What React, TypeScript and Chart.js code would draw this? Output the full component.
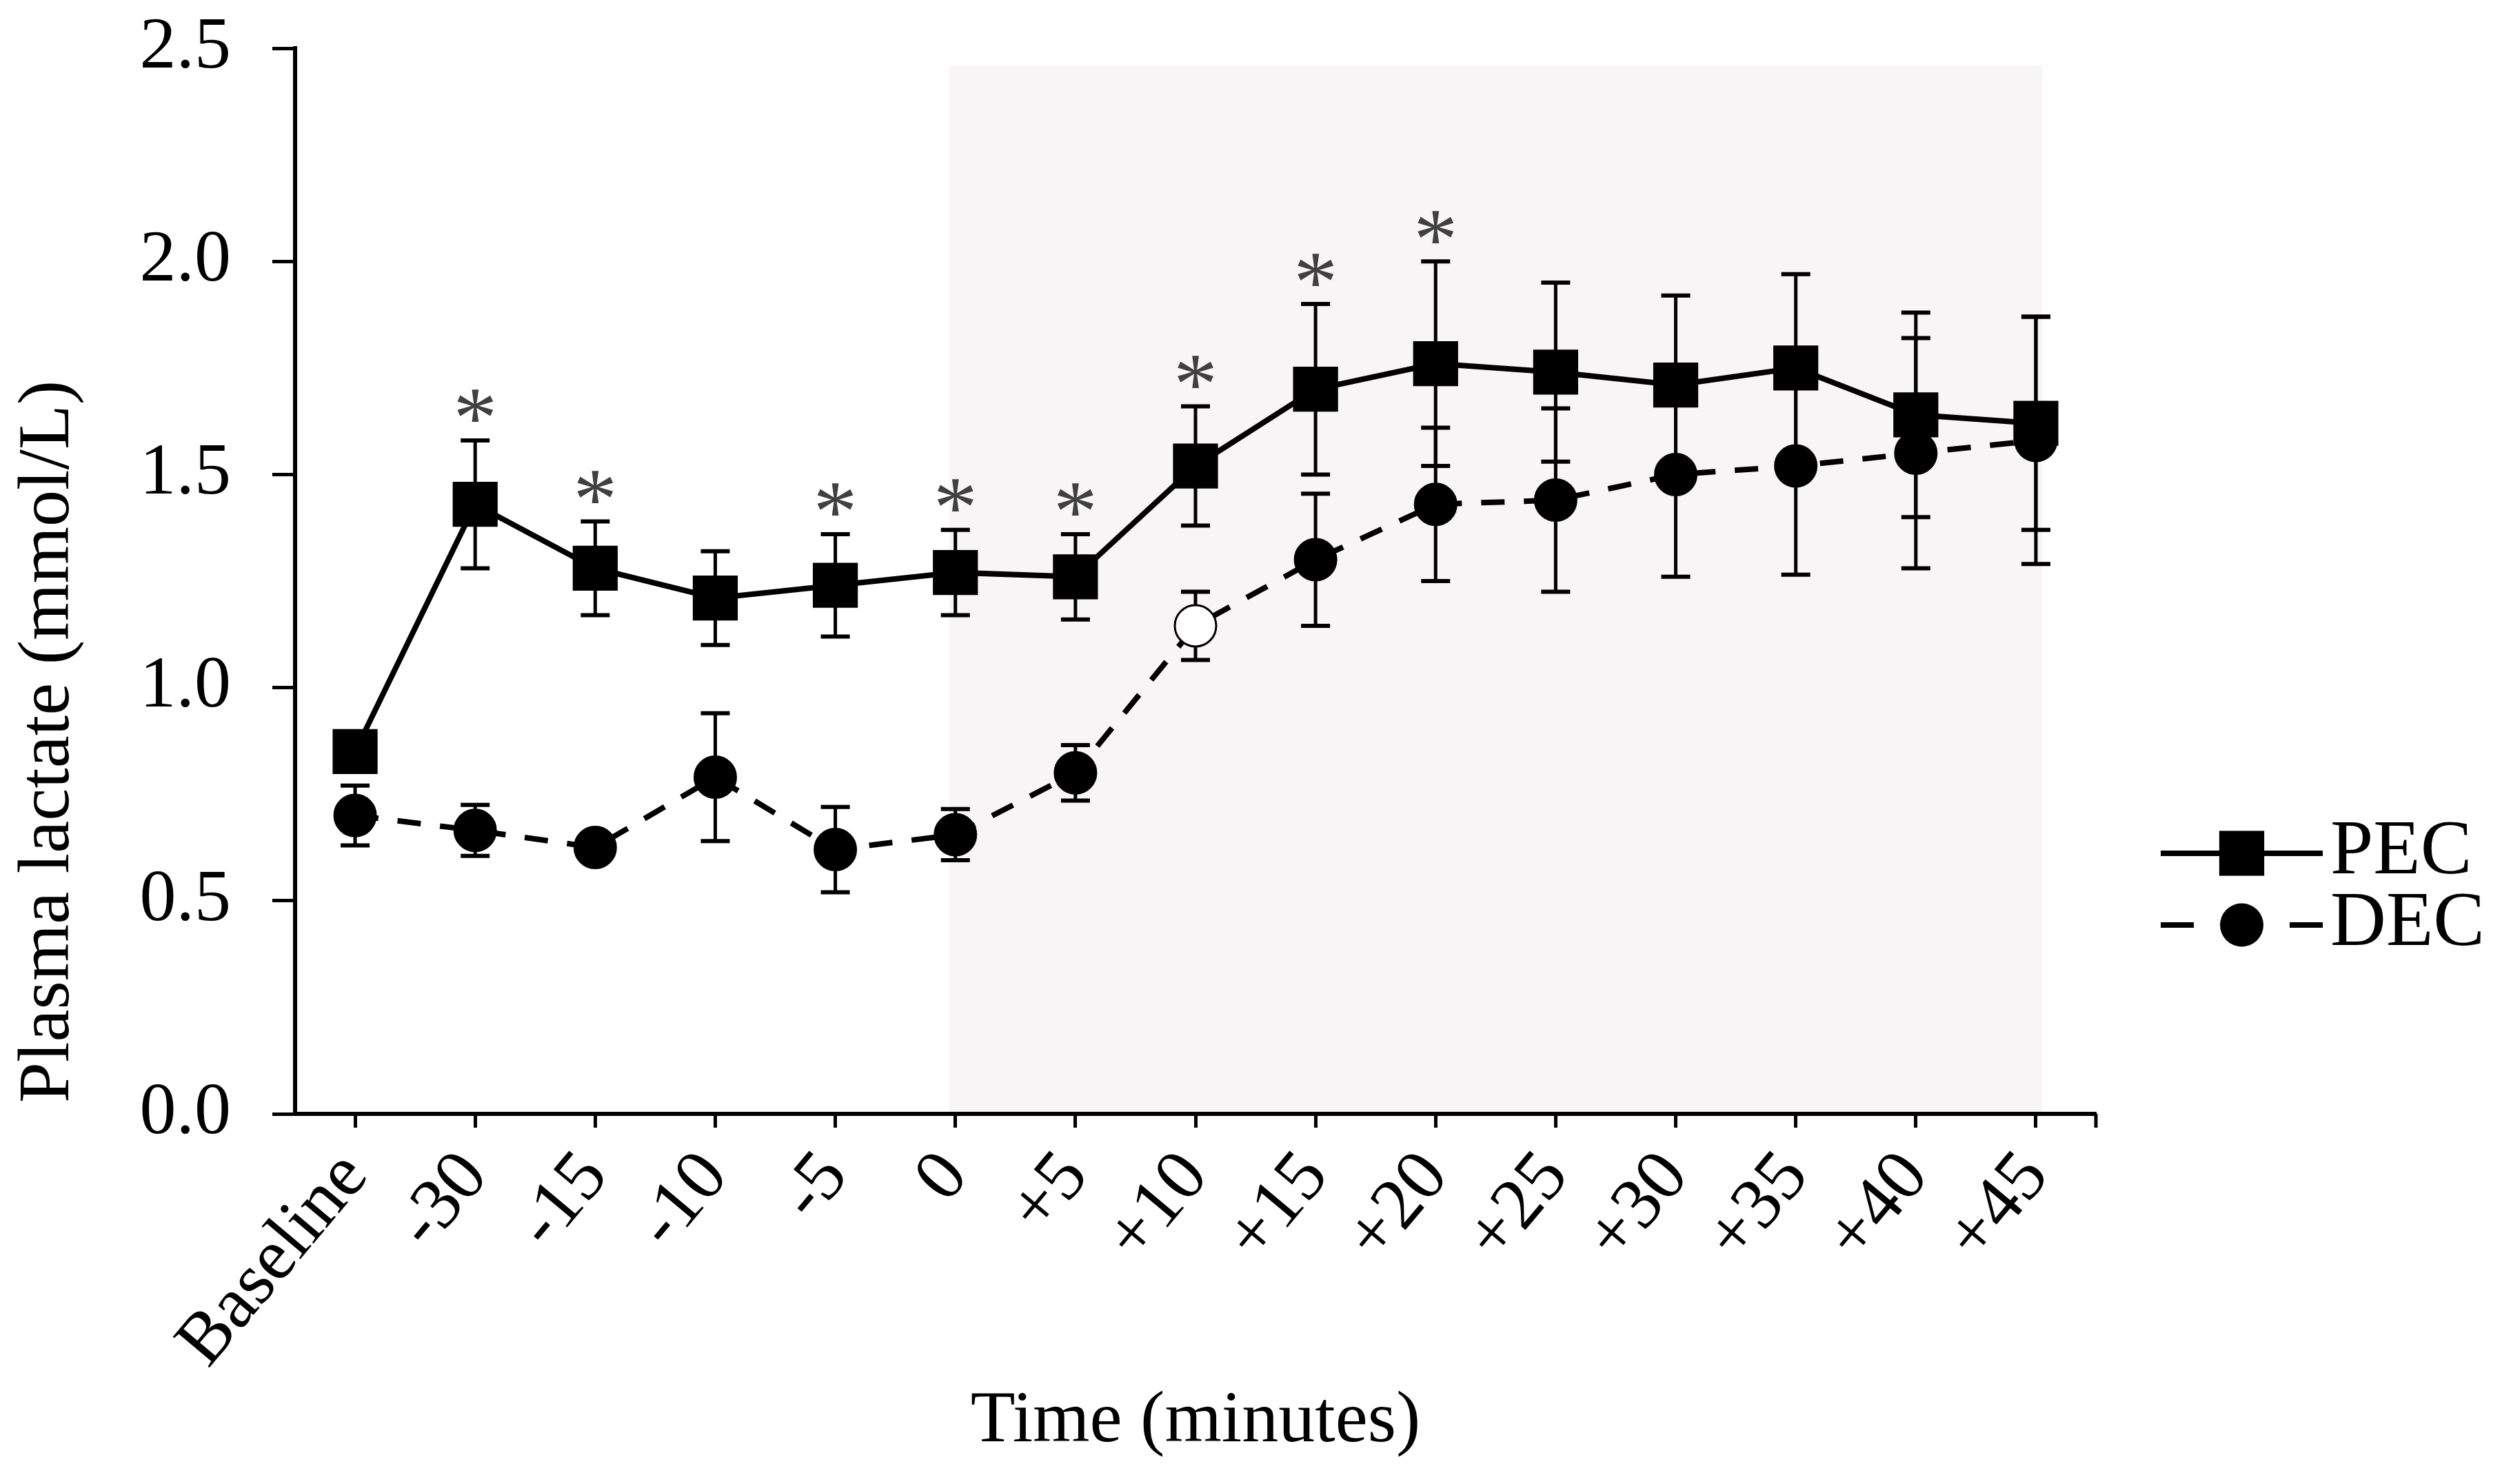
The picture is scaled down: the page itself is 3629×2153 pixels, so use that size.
import React, { useEffect, useRef } from 'react';
import { Chart, registerables } from 'chart.js';

Chart.register(...registerables);

// ---------- data ----------
const categories = ['Baseline', '-30', '-15', '-10', '-5', '0', '+5', '+10', '+15', '+20', '+25', '+30', '+35', '+40', '+45'];
const seriesNames = ['PEC', 'DEC'];
const pecMean = [0.85, 1.43, 1.28, 1.21, 1.24, 1.27, 1.26, 1.52, 1.70, 1.76, 1.74, 1.71, 1.75, 1.64, 1.62];
const pecErr = [0.04, 0.15, 0.11, 0.11, 0.12, 0.10, 0.10, 0.14, 0.20, 0.24, 0.21, 0.21, 0.22, 0.24, 0.25];
const decMean = [0.70, 0.665, 0.625, 0.79, 0.62, 0.655, 0.80, 1.145, 1.30, 1.43, 1.44, 1.50, 1.52, 1.55, 1.58];
const decErr = [0.07, 0.06, 0.03, 0.15, 0.10, 0.06, 0.065, 0.08, 0.155, 0.18, 0.215, 0.24, 0.255, 0.27, 0.29];
const pecSignificant = [false, true, true, false, true, true, true, true, true, true, false, false, false, false, false];
const decHollow = [false, false, false, false, false, false, false, true, false, false, false, false, false, false, false];
const yTickValues = [0, 0.5, 1.0, 1.5, 2.0, 2.5];
const shadedFrom = '0';
const shadedTo = '+45';
const shadedTop = 2.46;
const yTitle = 'Plasma lactate (mmol/L)';
const xTitle = 'Time (minutes)';

// ---------- styles ----------
const FONT = '"Liberation Serif", "Times New Roman", Times, serif';
const BLACK = '#000000';
const SHADE = '#f7f5f6';
const STAR = '#404040';
const SQUARE_RADIUS = 44;
const CIRCLE_RADIUS = 30;
const LINE_W = 8;
const DASH = [34, 28];

const overlayPlugin = {
  id: 'overlayPlugin',
  beforeDraw(chart: any) {
    const { ctx, scales } = chart;
    const x = scales.x, y = scales.y;
    const i0 = categories.indexOf(shadedFrom);
    const i1 = categories.indexOf(shadedTo);
    const left = x.getPixelForValue(i0) - 9;
    const right = x.getPixelForValue(i1) + 9;
    const top = y.getPixelForValue(shadedTop);
    const bottom = y.getPixelForValue(0);
    ctx.save();
    ctx.fillStyle = SHADE;
    ctx.fillRect(left, top, right - left, bottom - top);
    ctx.restore();
  },
  beforeDatasetsDraw(chart: any) {
    const { ctx, scales } = chart;
    const x = scales.x, y = scales.y;
    const drawBars = (means: number[], errs: number[]) => {
      means.forEach((m, i) => {
        const px = x.getPixelForValue(i);
        const yt = y.getPixelForValue(m + errs[i]);
        const yb = y.getPixelForValue(m - errs[i]);
        ctx.save();
        ctx.strokeStyle = BLACK;
        ctx.lineWidth = 5;
        ctx.beginPath();
        ctx.moveTo(px, yt);
        ctx.lineTo(px, yb);
        ctx.stroke();
        ctx.lineWidth = 6;
        ctx.beginPath();
        ctx.moveTo(px - 21, yt);
        ctx.lineTo(px + 21, yt);
        ctx.moveTo(px - 21, yb);
        ctx.lineTo(px + 21, yb);
        ctx.stroke();
        ctx.restore();
      });
    };
    drawBars(pecMean, pecErr);
    drawBars(decMean, decErr);
  },
  afterDatasetsDraw(chart: any) {
    const { ctx, scales } = chart;
    const x = scales.x, y = scales.y;
    ctx.save();
    ctx.font = `128px ${FONT}`;
    ctx.fillStyle = STAR;
    ctx.textAlign = 'center';
    ctx.textBaseline = 'alphabetic';
    const m = ctx.measureText('*');
    const asc = m.actualBoundingBoxAscent;
    const desc = m.actualBoundingBoxDescent;
    pecSignificant.forEach((sig, i) => {
      if (!sig) return;
      const px = x.getPixelForValue(i);
      const cap = y.getPixelForValue(pecMean[i] + pecErr[i]);
      const cy = cap - 50;
      ctx.fillText('*', px, cy + (asc - desc) / 2);
    });
    ctx.restore();
  },
  afterDraw(chart: any) {
    const { ctx, chartArea } = chart;
    ctx.save();
    // tick at the right end of the x axis
    ctx.strokeStyle = BLACK;
    ctx.lineWidth = 5;
    ctx.beginPath();
    ctx.moveTo(chartArea.right, chartArea.bottom);
    ctx.lineTo(chartArea.right, chartArea.bottom + 20);
    ctx.stroke();

    // y axis title
    ctx.fillStyle = BLACK;
    ctx.font = `106px ${FONT}`;
    ctx.textAlign = 'center';
    ctx.textBaseline = 'middle';
    ctx.translate(71, chartArea.bottom - 540);
    ctx.rotate(-Math.PI / 2);
    ctx.fillText(yTitle, 0, 0);
    ctx.restore();

    // legend
    const x0 = chartArea.right + 94;
    const x1 = chartArea.right + 329;
    const xm = (x0 + x1) / 2;
    const rows = [chartArea.bottom - 378, chartArea.bottom - 274];
    ctx.save();
    ctx.strokeStyle = BLACK;
    ctx.fillStyle = BLACK;
    ctx.lineWidth = LINE_W;
    // PEC
    ctx.beginPath();
    ctx.moveTo(x0, rows[0]);
    ctx.lineTo(x1, rows[0]);
    ctx.stroke();
    const s = SQUARE_RADIUS * Math.SQRT1_2 + 1.5;
    ctx.fillRect(xm - s, rows[0] - s, 2 * s, 2 * s);
    // DEC
    ctx.beginPath();
    ctx.moveTo(x0, rows[1]);
    ctx.lineTo(x0 + 48, rows[1]);
    ctx.moveTo(x1 - 48, rows[1]);
    ctx.lineTo(x1, rows[1]);
    ctx.stroke();
    ctx.beginPath();
    ctx.arc(xm, rows[1], CIRCLE_RADIUS + 1.5, 0, Math.PI * 2);
    ctx.fill();
    ctx.font = `112px ${FONT}`;
    ctx.textAlign = 'left';
    ctx.textBaseline = 'middle';
    ctx.fillText(seriesNames[0], x1 + 11, rows[0]);
    ctx.fillText(seriesNames[1], x1 + 11, rows[1]);
    ctx.restore();
  },
};

export default function App() {
  const canvasRef = useRef<HTMLCanvasElement | null>(null);

  useEffect(() => {
    document.body.style.margin = '0';
    const canvas = canvasRef.current;
    if (!canvas) return;
    Chart.defaults.font.family = FONT;
    Chart.defaults.color = BLACK;

    const chart = new Chart(canvas, {
      type: 'line',
      data: {
        labels: categories,
        datasets: [
          {
            label: seriesNames[0],
            data: pecMean,
            borderColor: BLACK,
            backgroundColor: BLACK,
            borderWidth: LINE_W,
            pointStyle: 'rect',
            pointRadius: SQUARE_RADIUS,
            pointBorderWidth: 3,
            pointBorderColor: BLACK,
            pointBackgroundColor: BLACK,
            tension: 0,
            order: 1,
          },
          {
            label: seriesNames[1],
            data: decMean,
            borderColor: BLACK,
            backgroundColor: BLACK,
            borderWidth: LINE_W,
            borderDash: DASH,
            pointStyle: 'circle',
            pointRadius: CIRCLE_RADIUS,
            pointBorderWidth: 3,
            pointBorderColor: BLACK,
            pointBackgroundColor: decHollow.map((h) => (h ? '#ffffff' : BLACK)),
            tension: 0,
            order: 0,
          },
        ],
      },
      options: {
        animation: false,
        responsive: true,
        maintainAspectRatio: false,
        devicePixelRatio: 1,
        layout: { padding: { top: 70, right: 589, left: 0, bottom: 0 } },
        plugins: {
          legend: { display: false },
          tooltip: { enabled: false },
        },
        scales: {
          x: {
            type: 'category',
            offset: true,
            grid: {
              display: true,
              drawOnChartArea: false,
              drawTicks: true,
              offset: false,
              tickLength: 20,
              tickWidth: 5,
              tickColor: BLACK,
            },
            border: { display: true, color: BLACK, width: 6 },
            ticks: {
              autoSkip: false,
              minRotation: 50,
              maxRotation: 50,
              padding: 12,
              color: BLACK,
              font: { family: FONT, size: 106 },
            },
            title: {
              display: true,
              text: xTitle,
              color: BLACK,
              font: { family: FONT, size: 106 },
              padding: { top: 0, bottom: 26 },
            },
            afterFit: (scale: any) => {
              scale.height = 537;
              scale.paddingLeft = 0;
              scale.paddingRight = 0;
            },
          },
          y: {
            type: 'linear',
            min: 0,
            max: 2.5,
            grid: {
              display: true,
              drawOnChartArea: false,
              drawTicks: true,
              tickLength: 33,
              tickWidth: 5,
              tickColor: BLACK,
            },
            border: { display: true, color: BLACK, width: 6 },
            afterBuildTicks: (scale: any) => {
              scale.ticks = yTickValues.map((v) => ({ value: v }));
            },
            ticks: {
              padding: 60,
              color: BLACK,
              font: { family: FONT, size: 106 },
              callback: (v: any) => Number(v).toFixed(1),
            },
            afterFit: (scale: any) => {
              scale.width = 428;
              scale.paddingTop = 0;
              scale.paddingBottom = 0;
            },
          },
        },
      },
      plugins: [overlayPlugin],
    });

    return () => {
      chart.destroy();
    };
  }, []);

  return (
    <div style={{ position: 'absolute', left: 0, top: 0, width: '3629px', height: '2153px', background: '#ffffff' }}>
      <canvas ref={canvasRef} />
    </div>
  );
}
